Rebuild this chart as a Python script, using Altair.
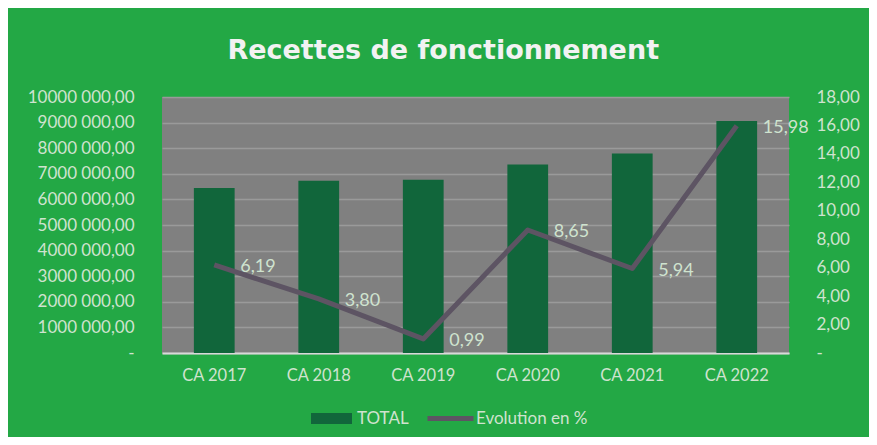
import altair as alt
import pandas as pd

categories = ["CA 2017", "CA 2018", "CA 2019", "CA 2020", "CA 2021", "CA 2022"]
totals = [6450000, 6730000, 6770000, 7360000, 7790000, 9060000]
evolution = [6.19, 3.80, 0.99, 8.65, 5.94, 15.98]
evolution_labels = ["6,19", "3,80", "0,99", "8,65", "5,94", "15,98"]
left_ticks = list(range(0, 10000001, 1000000))
right_ticks = list(range(0, 19, 2))

BG = "#23A845"
PLOT = "#808080"
BAR = "#11663B"
LINE = "#5D5463"
TXT = "#CFE3CF"

df = pd.DataFrame({
    "cat": categories,
    "total": totals,
    "evo": evolution,
    "lab": evolution_labels,
    "s_bar": ["TOTAL"] * len(categories),
    "s_line": ["Evolution en %"] * len(categories),
})

x = alt.X("cat:N", sort=categories, title=None,
          scale=alt.Scale(paddingInner=0.61, paddingOuter=0.305),
          axis=alt.Axis(labelAngle=0, labelFont="Lato", labelFontSize=16.5,
                        labelColor=TXT, ticks=False, domain=True,
                        domainColor="#D9D9D9", domainWidth=2, labelPadding=14))

bars = alt.Chart(df).mark_bar(color=BAR).encode(
    x=x,
    y=alt.Y("total:Q", title=None, scale=alt.Scale(domain=[0, 10000000], nice=False),
            axis=alt.Axis(values=left_ticks, grid=True, gridColor="#9A9A9A", gridWidth=1.5,
                          ticks=False, domain=False, labelFont="Lato", labelFontSize=17,
                          labelColor=TXT, labelPadding=28,
                          labelExpr="datum.value == 0 ? '-' : format(datum.value/1000, 'd') + ' 000,00'")),
    color=alt.Color("s_bar:N", scale=alt.Scale(domain=["TOTAL"], range=[BAR]),
                    legend=alt.Legend(title=None, orient="none", legendX=149, legendY=301,
                                      symbolType="M-1,-0.27H1V0.27H-1Z", symbolSize=1681,
                                      labelFont="Lato", labelFontSize=17, labelColor=TXT,
                                      labelOffset=5, padding=0, symbolStrokeWidth=0)),
)

yr = alt.Y("evo:Q", title=None, scale=alt.Scale(domain=[0, 18], nice=False),
           axis=alt.Axis(orient="right", values=right_ticks, grid=False, ticks=False,
                         domain=False, labelFont="Lato", labelFontSize=17, labelColor=TXT,
                         labelPadding=27,
                         labelExpr="datum.value == 0 ? '-' : replace(format(datum.value, '.2f'), '.', ',')"))

line = alt.Chart(df).mark_line(strokeWidth=5, strokeJoin="round").encode(
    x=x,
    y=yr,
    stroke=alt.Stroke("s_line:N", scale=alt.Scale(domain=["Evolution en %"], range=[LINE]),
                      legend=alt.Legend(title=None, orient="none", legendX=263, legendY=296,
                                        symbolType="stroke", symbolSize=2116,
                                        symbolStrokeWidth=5,
                                        labelFont="Lato", labelFontSize=17, labelColor=TXT,
                                        labelOffset=0, padding=0)),
)

labels = alt.Chart(df).mark_text(align="left", baseline="middle", dx=26, dy=2,
                                 font="Lato", fontSize=18, color=TXT).encode(
    x=x,
    y=yr,
    text="lab:N",
)

chart = alt.layer(bars, alt.layer(line, labels)).resolve_scale(
    y="independent", color="independent"
).properties(
    width=861, height=429,
    autosize=alt.AutoSizeParams(type="fit", contains="padding"),
    padding={"left": 19, "right": 9, "top": 29, "bottom": 53},
    background=BG,
    title=alt.TitleParams("Recettes de fonctionnement", font="DejaVu Sans", fontSize=27,
                          fontWeight="bold", color="#F2F2F2", anchor="middle",
                          frame="bounds", offset=23),
).configure_view(fill=PLOT, stroke=None)

chart.save("out.html", embed_options={"renderer": "svg", "actions": False})
